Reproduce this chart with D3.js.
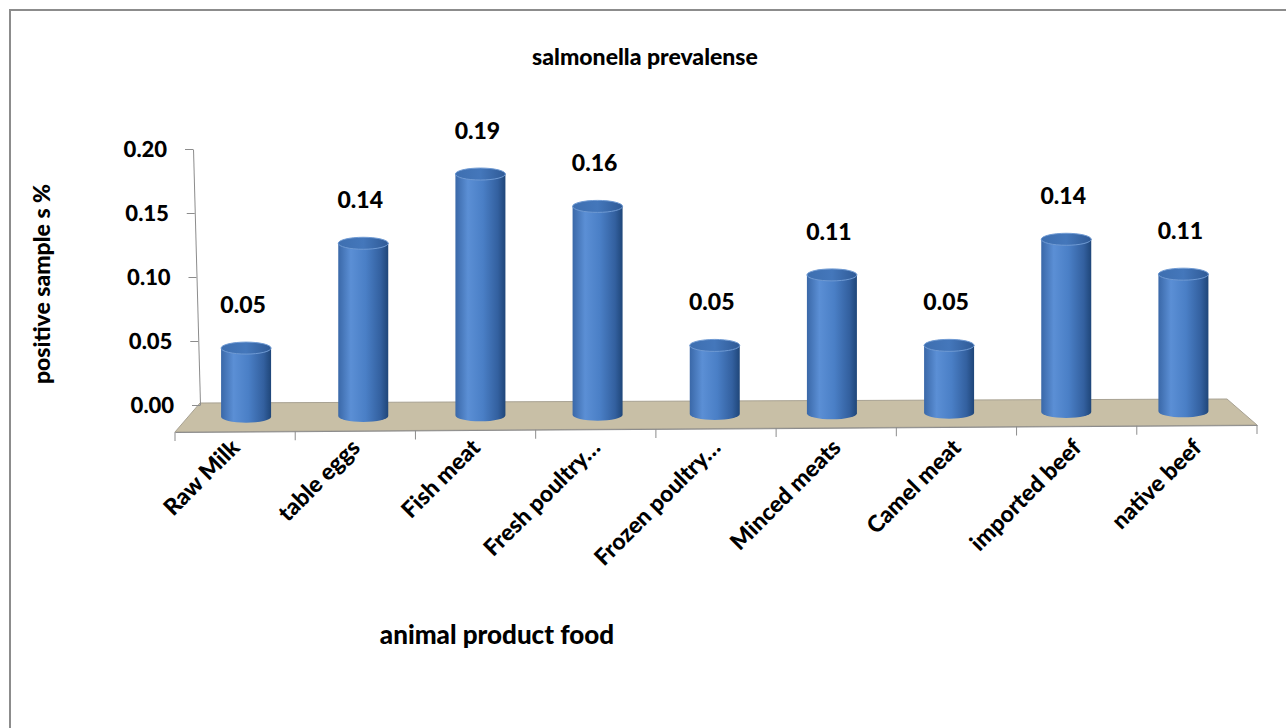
<!DOCTYPE html>
<html>
<head>
<meta charset="utf-8">
<script src="https://cdn.jsdelivr.net/npm/d3@7"></script>
<style>
  body { margin: 0; background: #fff; }
  text { font-family: Lato, "Open Sans", sans-serif; font-weight: 900; fill: #000; }
</style>
</head>
<body>
<svg id="chart" width="1286" height="728"></svg>
<script>
// values (labels show 2 decimals)
const categories = ["Raw Milk", "table eggs", "Fish meat", "Fresh poultry…", "Frozen poultry…",
  "Minced meats", "Camel meat", "imported beef", "native beef"]
const prevalence = [0.054, 0.136, 0.19, 0.164, 0.054, 0.109, 0.053, 0.136, 0.108]
const yTicks = [0, 0.05, 0.1, 0.15, 0.2]

const title = "salmonella prevalense"
const xTitle = "animal product food"
const yTitle = "positive sample s %"

const svg = d3.select('#chart')

// outer chart frame (only top and left edges fall inside the picture)
svg.append('rect')
  .attr('x', 10).attr('y', 10)
  .attr('width', 1400).attr('height', 900)
  .attr('fill', 'none')
  .attr('stroke', '#8c8c8c')
  .attr('stroke-width', 2)

// gradients for the cylinders
const defs = svg.append('defs')
const grad = defs.append('linearGradient').attr('id', 'cyl')
  .attr('x1', '0%').attr('x2', '100%').attr('y1', '0%').attr('y2', '0%')
grad.append('stop').attr('offset', '0%').attr('stop-color', '#3a68a8')
grad.append('stop').attr('offset', '25%').attr('stop-color', '#5b8fd5')
grad.append('stop').attr('offset', '55%').attr('stop-color', '#4a7fc6')
grad.append('stop').attr('offset', '85%').attr('stop-color', '#33609f')
grad.append('stop').attr('offset', '100%').attr('stop-color', '#1f4679')

const topGrad = defs.append('linearGradient').attr('id', 'cylTop')
  .attr('x1', '0%').attr('x2', '100%').attr('y1', '0%').attr('y2', '0%')
topGrad.append('stop').attr('offset', '0%').attr('stop-color', '#3e6fb0')
topGrad.append('stop').attr('offset', '50%').attr('stop-color', '#4477bb')
topGrad.append('stop').attr('offset', '100%').attr('stop-color', '#2f5a96')

// scales
const yScale = d3.scaleLinear().domain([0, 0.2]).range([405, 149])
const hScale = d3.scaleLinear().domain([0, 0.2]).range([0, 254])
const xFront = d3.scaleBand().domain(categories).range([175, 1257]).paddingInner(0).paddingOuter(0)
const xMid = d3.scaleBand().domain(categories).range([187.5, 1242]).paddingInner(0).paddingOuter(0)
const baseY = d3.scaleLinear().domain([187.5, 1242]).range([417, 411])

// floor
const floor = [[200, 403], [1227, 399], [1257, 425], [175, 432]]
svg.append('polygon')
  .attr('points', floor.map(p => p.join(',')).join(' '))
  .attr('fill', '#c8bfa6')
  .attr('stroke', '#a8a293')
  .attr('stroke-width', 1)

// y axis, slightly slanted like the 3D wall edge
const slant = 7 / 256
const yAxisG = svg.append('g')
  .attr('transform', `translate(${200 - 405 * slant}, 0) skewX(${Math.atan(slant) * 180 / Math.PI})`)
  .call(d3.axisLeft(yScale).tickValues(yTicks).tickFormat(d3.format('.2f')).tickSize(8).tickSizeOuter(0).tickPadding(18))
yAxisG.selectAll('path, line').attr('stroke', '#8c8c8c')
yAxisG.selectAll('text').attr('font-size', 22).attr('font-family', 'Lato, sans-serif').attr('font-weight', 900).attr('fill', '#000')

// x axis along the front edge of the floor
const xAxisG = svg.append('g')
  .attr('transform', `translate(0, ${432 + 175 * 7 / 1082}) skewY(${-Math.atan(7 / 1082) * 180 / Math.PI})`)
  .call(d3.axisBottom(xFront).tickSize(0).tickFormat(''))
xAxisG.select('.domain').attr('stroke', '#8c8c8c')
xAxisG.selectAll('.sep')
  .data(d3.range(categories.length + 1))
  .enter().append('line')
  .attr('class', 'sep')
  .attr('x1', i => i < categories.length ? xFront(categories[i]) : xFront.range()[1])
  .attr('x2', i => i < categories.length ? xFront(categories[i]) : xFront.range()[1])
  .attr('y1', 0).attr('y2', 9)
  .attr('stroke', '#8c8c8c')

// category labels
svg.append('g').selectAll('text')
  .data(categories)
  .enter().append('text')
  .attr('transform', d => {
    const cx = xFront(d) + xFront.bandwidth() / 2
    return `translate(${cx + 6}, 449) rotate(-45)`
  })
  .attr('text-anchor', 'end')
  .attr('font-size', 23)
  .text(d => d)

// cylinders
const barW = 50
const ry = 6
const bars = svg.append('g').selectAll('g')
  .data(prevalence)
  .enter().append('g')

bars.each(function (v, i) {
  const g = d3.select(this)
  const cx = xMid(categories[i]) + xMid.bandwidth() / 2
  const yb = baseY(cx)
  const yt = yb - hScale(v)
  const l = cx - barW / 2, r = cx + barW / 2
  g.append('path')
    .attr('d', `M${l},${yt} L${l},${yb} A${barW / 2},${ry} 0 0 0 ${r},${yb} L${r},${yt} Z`)
    .attr('fill', 'url(#cyl)')
  g.append('ellipse')
    .attr('cx', cx).attr('cy', yt)
    .attr('rx', barW / 2).attr('ry', ry)
    .attr('fill', 'url(#cylTop)')
    .attr('stroke', '#6f9ad3')
    .attr('stroke-width', 1)
  g.append('text')
    .attr('x', cx - 3)
    .attr('y', yt - 43)
    .attr('dy', '0.35em')
    .attr('text-anchor', 'middle')
    .attr('font-size', 23)
    .text(d3.format('.2f')(v))
})

// titles
svg.append('text')
  .attr('x', 645).attr('y', 57).attr('dy', '0.35em')
  .attr('text-anchor', 'middle')
  .attr('font-size', 23)
  .text(title)

svg.append('text')
  .attr('x', 497).attr('y', 635).attr('dy', '0.35em')
  .attr('text-anchor', 'middle')
  .attr('font-size', 26)
  .text(xTitle)

svg.append('text')
  .attr('transform', 'translate(42, 284) rotate(-90)')
  .attr('dy', '0.35em')
  .attr('text-anchor', 'middle')
  .attr('font-size', 23)
  .text(yTitle)
</script>
</body>
</html>
